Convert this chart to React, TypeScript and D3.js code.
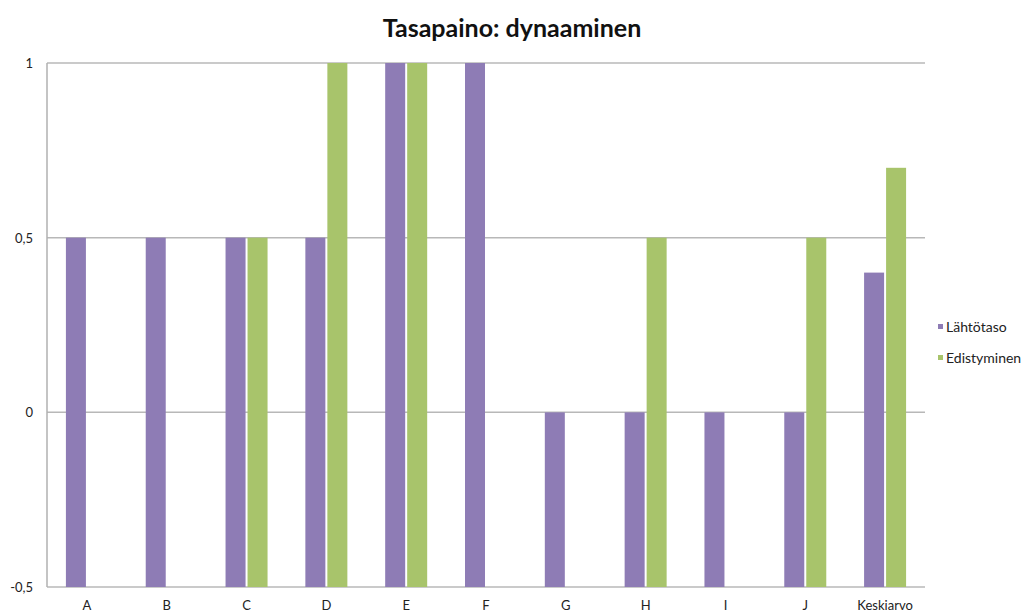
import React from "react";
import * as d3 from "d3";

const categories = ["A", "B", "C", "D", "E", "F", "G", "H", "I", "J", "Keskiarvo"];
const lahtotaso: (number | null)[] = [0.5, 0.5, 0.5, 0.5, 1, 1, 0, 0, 0, 0, 0.4];
const edistyminen: (number | null)[] = [null, null, 0.5, 1, 1, null, null, 0.5, null, 0.5, 0.7];
const yTicks = [-0.5, 0, 0.5, 1];
const seriesNames = ["Lähtötaso", "Edistyminen"];
const colors = ["#8E7CB5", "#A8C46B"];

const W = 1023;
const H = 613;
const left = 47;
const right = 925;
const top = 63;
const bottom = 587;

export default function App() {
  const x = d3.scaleBand<string>().domain(categories).range([left, right]).padding(0);
  const y = d3.scaleLinear().domain([-0.5, 1]).range([bottom, top]);
  const fmt = (v: number) => String(v).replace(".", ",");
  const barW = 20;
  const series = [lahtotaso, edistyminen];
  const font = "Lato, 'Open Sans', sans-serif";

  return (
    <div style={{ position: "fixed", left: 0, top: 0 }}>
      <svg width={W} height={H} style={{ display: "block", background: "#fff" }}>
        <text x={512} y={37} textAnchor="middle" fontFamily={font} fontWeight="bold" fontSize={25} fill="#111">
          Tasapaino: dynaaminen
        </text>
        {yTicks.map((t) => (
          <g key={t}>
            <line x1={left} x2={right} y1={y(t)} y2={y(t)} stroke="#b8b8b8" strokeWidth={1.5} />
            <text x={33} y={y(t) + 5} textAnchor="end" fontFamily={font} fontSize={13} fill="#222">
              {fmt(t)}
            </text>
          </g>
        ))}
        <line x1={left} x2={left} y1={top} y2={bottom} stroke="#b0b0b0" strokeWidth={1.5} />
        {series.map((vals, si) =>
          vals.map((v, i) => {
            if (v === null) return null;
            const c = (x(categories[i]) as number) + x.bandwidth() / 2;
            const x0 = si === 0 ? c - 1 - barW : c + 1;
            return (
              <rect key={`${si}-${i}`} x={x0} y={y(v)} width={barW} height={y(-0.5) - y(v)} fill={colors[si]} />
            );
          })
        )}
        {categories.map((cat) => (
          <text
            key={cat}
            x={(x(cat) as number) + x.bandwidth() / 2}
            y={610}
            textAnchor="middle"
            fontFamily={font}
            fontSize={13}
            fill="#222"
          >
            {cat}
          </text>
        ))}
        {seriesNames.map((n, i) => (
          <g key={n}>
            <rect x={938} y={324 + i * 31} width={5} height={5} fill={colors[i]} />
            <text x={946} y={332 + i * 31} fontFamily={font} fontSize={14} fill="#222">
              {n}
            </text>
          </g>
        ))}
      </svg>
    </div>
  );
}
